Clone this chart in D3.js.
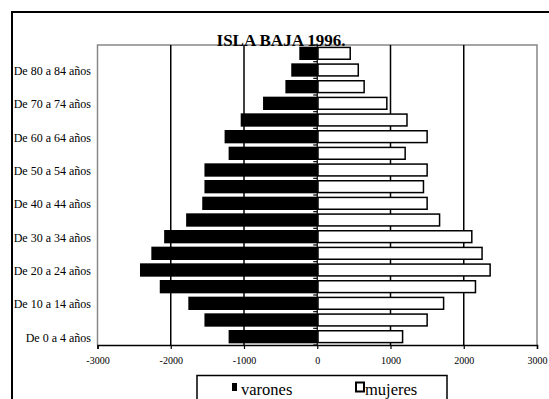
<!DOCTYPE html>
<html>
<head>
<meta charset="utf-8">
<script src="https://cdn.jsdelivr.net/npm/d3@7"></script>
<style>
  html, body { margin: 0; padding: 0; background: #fff; }
  svg { display: block; }
  text { font-family: "Liberation Serif", "Times New Roman", serif; fill: #000; }
</style>
</head>
<body>
<svg id="chart" width="549" height="399"></svg>
<script>
// ---- data (bottom to top) ----
const categories = ["De 0 a 4 años","De 5 a 9 años","De 10 a 14 años","De 15 a 19 años",
  "De 20 a 24 años","De 25 a 29 años","De 30 a 34 años","De 35 a 39 años",
  "De 40 a 44 años","De 45 a 49 años","De 50 a 54 años","De 55 a 59 años",
  "De 60 a 64 años","De 65 a 69 años","De 70 a 74 años","De 75 a 79 años",
  "De 80 a 84 años","De 85 y más años"];
const varones = [-1210,-1540,-1760,-2150,-2420,-2265,-2090,-1790,-1570,-1540,-1540,-1210,-1265,-1045,-740,-435,-355,-245];
const mujeres = [1165,1500,1725,2160,2360,2250,2110,1670,1500,1450,1500,1200,1500,1225,950,640,560,450];
const xTicks = [-3000,-2000,-1000,0,1000,2000,3000];
const gridValues = [-2000,-1000,1000,2000];
const seriesNames = ["varones","mujeres"];
const title = "ISLA BAJA 1996.";

const svg = d3.select("#chart");
const pLeft = 97.5, pRight = 537, pTop = 45, pBottom = 345;

const x = d3.scaleLinear().domain([-3000, 3000]).range([pLeft, pRight]);
const y = d3.scaleBand().domain(categories.slice().reverse()).range([pTop, pBottom]).paddingInner(0.2).paddingOuter(0.1);

// outer frame
svg.append("rect").attr("x", 12).attr("y", 12).attr("width", 600).attr("height", 500)
  .attr("fill", "none").attr("stroke", "#000").attr("stroke-width", 2);

// plot border (gray)
svg.append("path")
  .attr("d", `M${pLeft},${pBottom} V${pTop} H${pRight} V${pBottom}`)
  .attr("fill", "none").attr("stroke", "#888").attr("stroke-width", 1.5);

// gridlines
svg.append("g").selectAll("line").data(gridValues).join("line")
  .attr("x1", d => x(d)).attr("x2", d => x(d))
  .attr("y1", pTop).attr("y2", pBottom)
  .attr("stroke", "#000").attr("stroke-width", 1.5);

// y axis at zero with ticks at band boundaries
const step = y.step();
const boundaries = d3.range(categories.length + 1).map(i => pTop + i * step);
svg.append("g").selectAll("line").data(boundaries).join("line")
  .attr("x1", x(0) - 4).attr("x2", x(0))
  .attr("y1", d => d).attr("y2", d => d)
  .attr("stroke", "#000").attr("stroke-width", 1.2);
svg.append("line").attr("x1", x(0)).attr("x2", x(0)).attr("y1", pTop).attr("y2", pBottom)
  .attr("stroke", "#000").attr("stroke-width", 1.2);

// bars
svg.append("g").selectAll("rect").data(categories).join("rect")
  .attr("x", (d, i) => x(varones[i]))
  .attr("y", d => y(d))
  .attr("width", (d, i) => x(0) - x(varones[i]))
  .attr("height", y.bandwidth())
  .attr("fill", "#000");

svg.append("g").selectAll("rect").data(categories).join("rect")
  .attr("x", x(0) + 0.75)
  .attr("y", d => y(d) + 0.75)
  .attr("width", (d, i) => x(mujeres[i]) - x(0) - 0.75)
  .attr("height", y.bandwidth() - 1.5)
  .attr("fill", "#fff").attr("stroke", "#000").attr("stroke-width", 1.5);

// x axis
const xAxis = d3.axisBottom(x).tickValues(xTicks).tickSize(4).tickFormat(d => String(d));
const gx = svg.append("g").attr("transform", `translate(0,${pBottom})`).call(xAxis);
gx.select(".domain").attr("stroke", "#000").attr("stroke-width", 1.5);
gx.selectAll(".tick line").attr("stroke", "#000").attr("stroke-width", 1.2);
gx.selectAll(".tick text").attr("y", 12).attr("font-size", "10px")
  .attr("font-family", "Liberation Serif, serif").attr("fill", "#222");

// category labels (every other)
svg.append("g").selectAll("text").data(categories.filter((d, i) => i % 2 === 0)).join("text")
  .attr("x", 91).attr("y", d => y(d) + y.bandwidth() / 2 + 1)
  .attr("text-anchor", "end").attr("dominant-baseline", "central")
  .attr("font-size", "12px").attr("fill", "#222")
  .text(d => d);

// title
svg.append("text").attr("x", 281).attr("y", 46).attr("text-anchor", "middle")
  .attr("font-size", "17px").attr("font-weight", "bold").text(title);

// legend
svg.append("rect").attr("x", 197).attr("y", 375.5).attr("width", 250).attr("height", 60)
  .attr("fill", "#fff").attr("stroke", "#000").attr("stroke-width", 1.5);
svg.append("rect").attr("x", 232).attr("y", 383).attr("width", 5).attr("height", 8).attr("fill", "#000");
svg.append("text").attr("x", 241).attr("y", 395).attr("font-size", "16.5px").text(seriesNames[0]);
svg.append("rect").attr("x", 356).attr("y", 382.5).attr("width", 8).attr("height", 9)
  .attr("fill", "#fff").attr("stroke", "#000").attr("stroke-width", 2);
svg.append("text").attr("x", 365).attr("y", 395).attr("font-size", "16.5px").text(seriesNames[1]);
</script>
</body>
</html>
